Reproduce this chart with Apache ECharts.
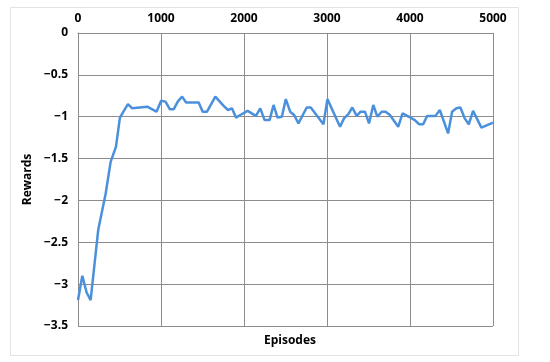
<!DOCTYPE html>
<html>
<head>
<meta charset="utf-8">
<script src="https://cdn.jsdelivr.net/npm/echarts@6/dist/echarts.min.js"></script>
<style>html,body{margin:0;padding:0;background:#fff}#c{width:550px;height:362px}</style>
</head>
<body>
<div id="c"></div>
<script>
const episodes = [0,52,104,152,244,333,393,457,505,601,653,833,946,1002,1054,1106,1154,1202,1254,1302,1454,1502,1554,1655,1755,1807,1855,1903,1955,2043,2143,2196,2248,2308,2356,2404,2456,2504,2556,2604,2656,2756,2804,2857,2957,3005,3157,3205,3257,3305,3357,3405,3457,3506,3558,3606,3658,3706,3758,3858,3910,4006,4058,4110,4159,4207,4307,4359,4459,4507,4559,4607,4659,4708,4760,4860,5000];
const rewards = [-3.19,-2.90,-3.10,-3.19,-2.35,-1.92,-1.54,-1.36,-1.01,-0.85,-0.90,-0.88,-0.94,-0.81,-0.82,-0.91,-0.91,-0.82,-0.76,-0.83,-0.83,-0.94,-0.94,-0.76,-0.87,-0.92,-0.90,-1.01,-0.98,-0.93,-0.99,-0.90,-1.04,-1.04,-0.86,-1.01,-1.00,-0.79,-0.94,-0.98,-1.08,-0.89,-0.89,-0.96,-1.09,-0.79,-1.12,-1.02,-0.97,-0.89,-0.99,-0.94,-0.94,-1.08,-0.86,-1.00,-0.94,-0.94,-0.98,-1.12,-0.96,-1.01,-1.04,-1.09,-1.09,-0.99,-0.99,-0.92,-1.20,-0.94,-0.90,-0.89,-1.02,-1.09,-0.93,-1.13,-1.07];
const xLabels = ['0','1000','2000','3000','4000','5000'];
const yLabels = ['0','\u22120.5','\u22121','\u22121.5','\u22122','\u22122.5','\u22123','\u22123.5'];

const font = '"Open Sans", sans-serif';
const chart = echarts.init(document.getElementById('c'));
const data = episodes.map((e, i) => [e, rewards[i]]);
chart.setOption({
  animation: false,
  backgroundColor: '#fff',
  graphic: [{
    type: 'rect', left: 8, top: 5, shape: {width: 508, height: 348},
    style: {fill: 'none', stroke: '#e3e3e3', lineWidth: 1}
  }],
  title: {
    text: 'Episodes', left: 285, top: 330, textAlign: 'center',
    textStyle: {fontFamily: font, fontWeight: 'bold', fontSize: 12, color: '#000'}
  },
  grid: {left: 78, right: 57, top: 33, bottom: 36},
  xAxis: {
    type: 'value', position: 'top', min: 0, max: 5000, interval: 1000,
    axisLine: {show: true, lineStyle: {color: '#8c8c8c'}},
    axisTick: {show: false},
    axisLabel: {margin: 8, fontFamily: font, fontWeight: 'bold', fontSize: 12, color: '#000',
      formatter: v => xLabels[Math.round(v / 1000)]},
    splitLine: {show: true, lineStyle: {color: '#8c8c8c', width: 1}}
  },
  yAxis: {
    type: 'value', min: -3.5, max: 0, interval: 0.5,
    name: 'Rewards', nameLocation: 'middle', nameGap: 42, nameRotate: 90,
    nameTextStyle: {fontFamily: font, fontWeight: 'bold', fontSize: 12, color: '#000'},
    axisLine: {show: true, lineStyle: {color: '#8c8c8c'}},
    axisTick: {show: false},
    axisLabel: {margin: 10, fontFamily: font, fontWeight: 'bold', fontSize: 12, color: '#000',
      formatter: v => yLabels[Math.round(-v / 0.5)]},
    splitLine: {show: true, lineStyle: {color: '#8c8c8c', width: 1}}
  },
  series: [{
    type: 'line', data: data, showSymbol: false,
    lineStyle: {color: '#4a90dc', width: 2.5},
    itemStyle: {color: '#4a90dc'}
  }]
});
</script>
</body>
</html>
